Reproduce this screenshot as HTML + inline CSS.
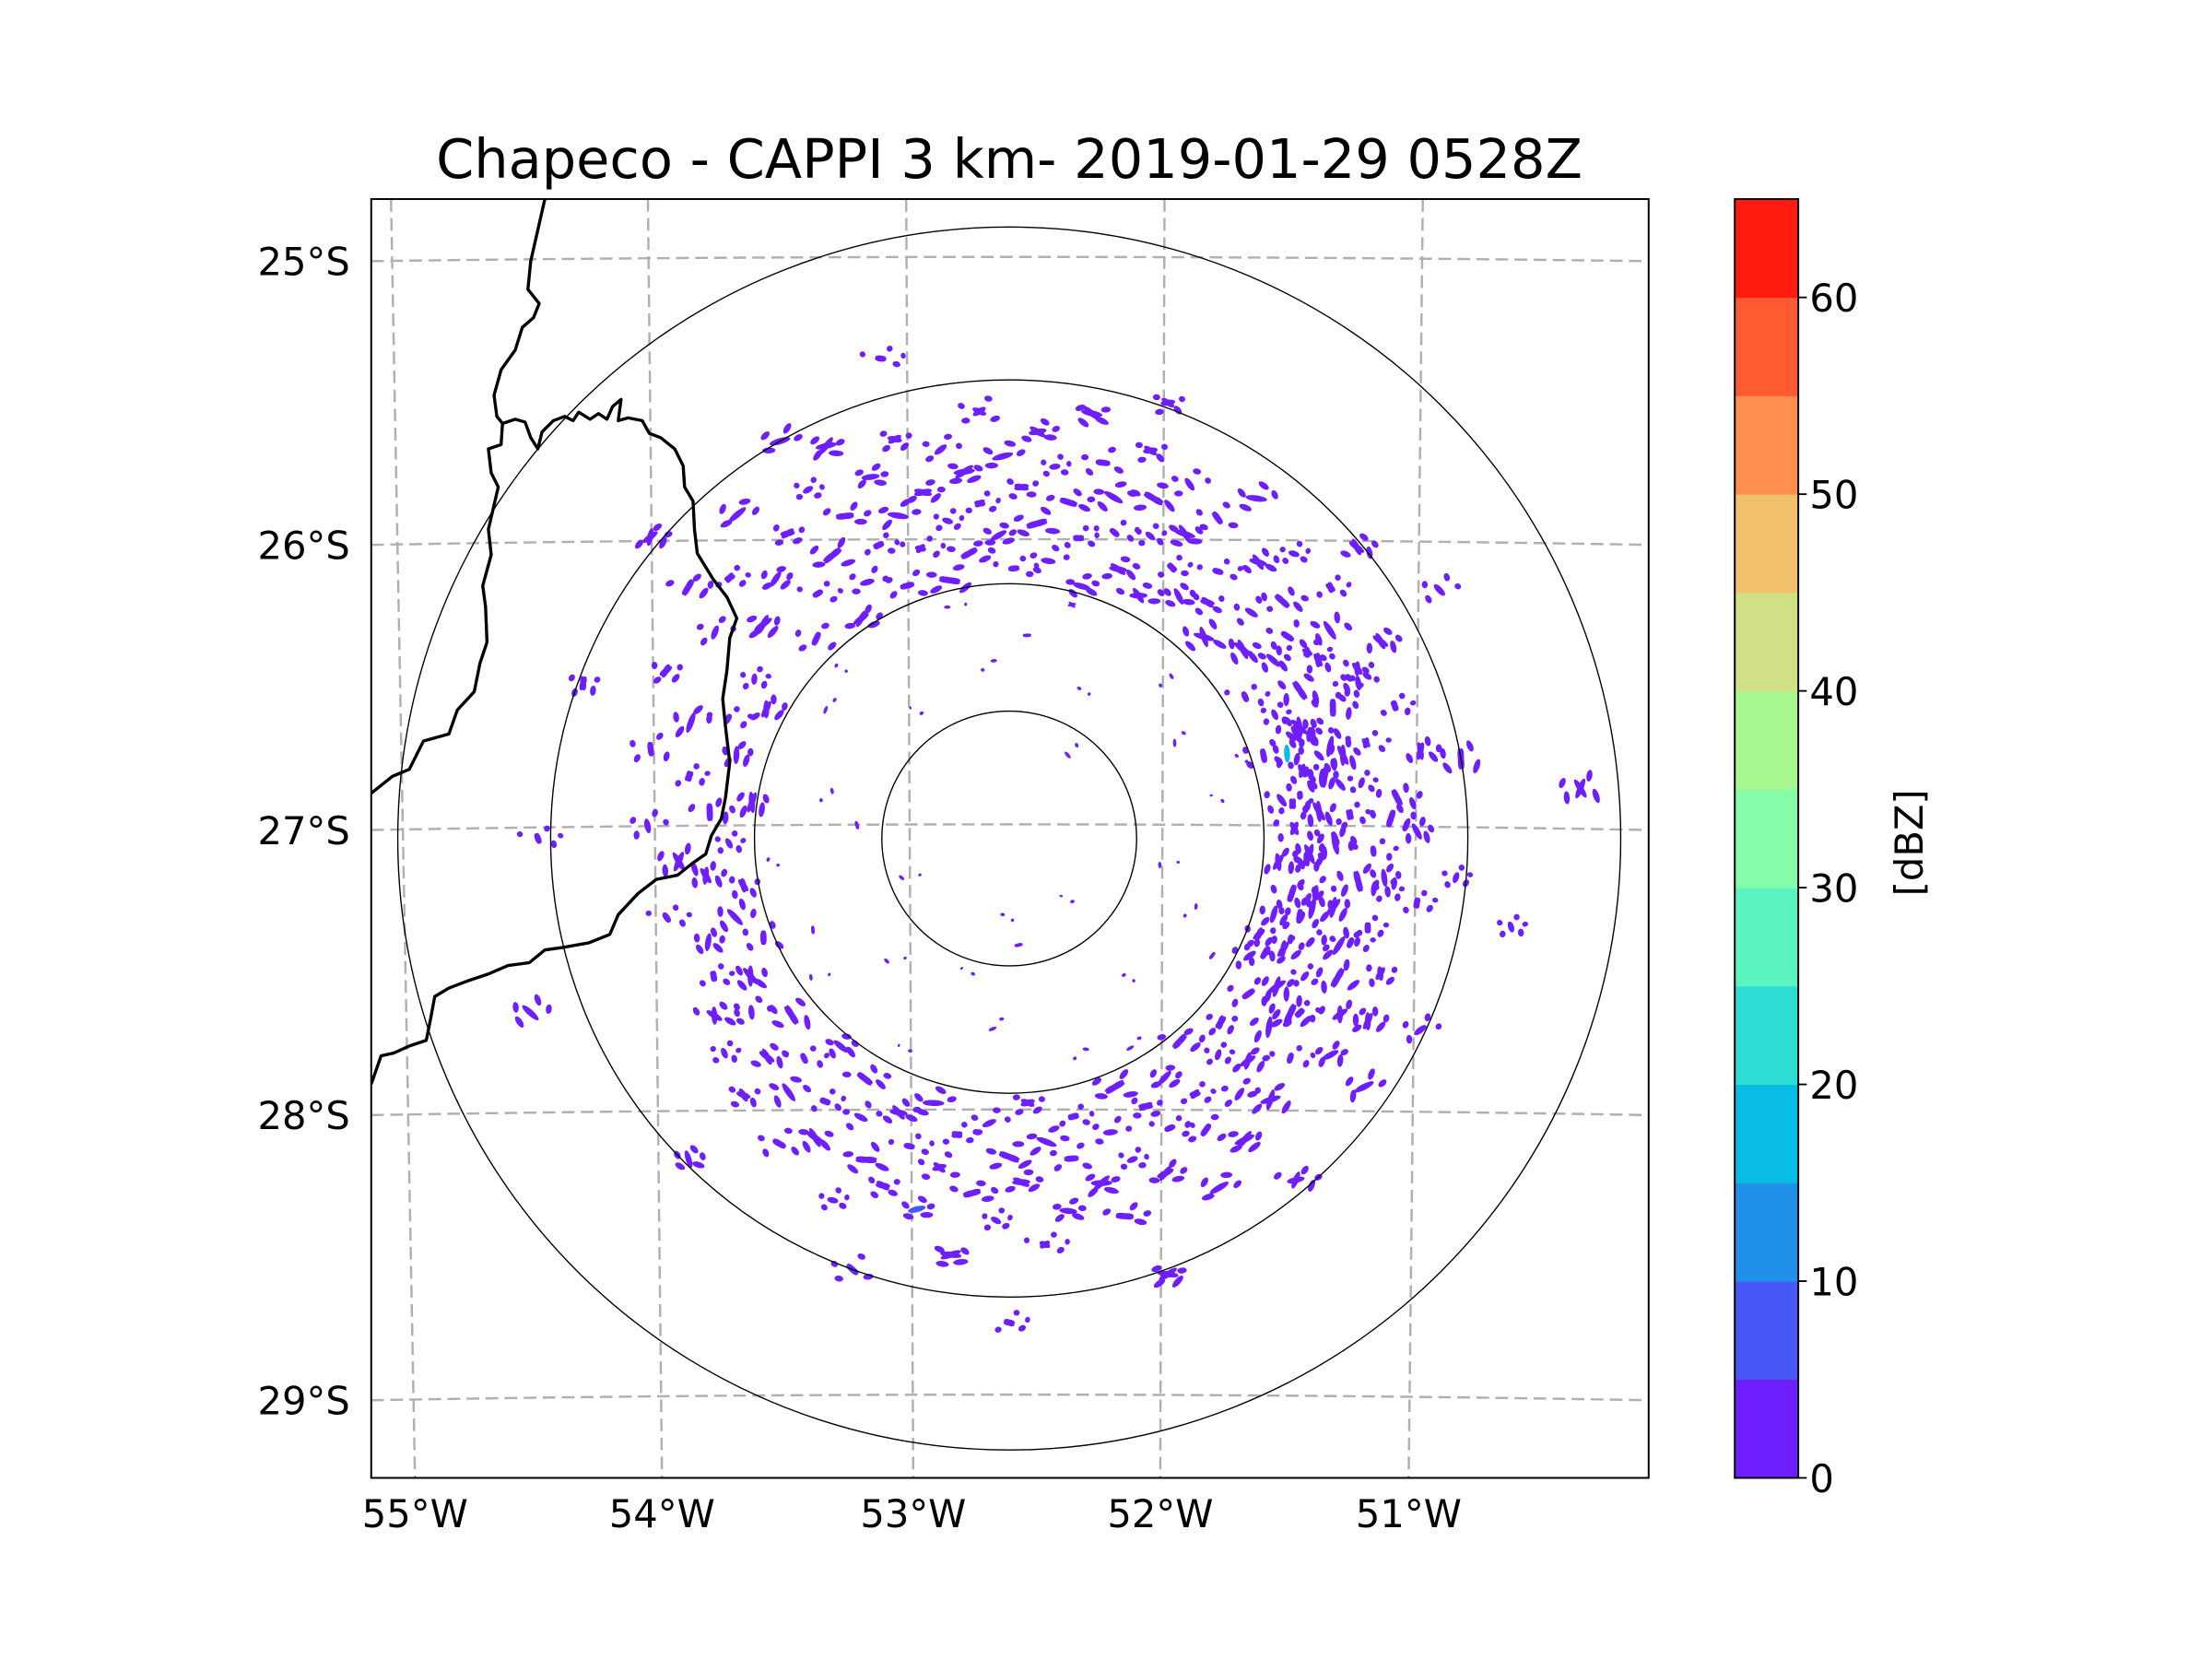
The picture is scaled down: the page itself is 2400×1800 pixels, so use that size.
<!DOCTYPE html>
<html><head><meta charset="utf-8"><style>
html,body{margin:0;padding:0;background:#fff;}
svg{display:block;font-family:"DejaVu Sans","Liberation Sans",sans-serif;}
</style></head><body>
<svg id="fig" width="2400" height="1800" viewBox="0 0 1567.1 1175.3" xmlns="http://www.w3.org/2000/svg">
<rect width="1567.1" height="1175.3" fill="#fff"/>
<text x="715" y="126" font-size="38.5" text-anchor="middle" fill="#000">Chapeco - CAPPI 3 km- 2019-01-29 0528Z</text>
<defs><clipPath id="axclip"><rect x="263" y="141" width="905" height="906"/></clipPath></defs>
<g id="plot" clip-path="url(#axclip)">
<g id="grid" stroke="#b0b0b0" stroke-width="1.6" stroke-dasharray="9 4.5" fill="none"></g>
<g id="echoes"></g>
<g id="rings" fill="none" stroke="#000" stroke-width="0.9"></g>
<g id="coast" fill="none" stroke="#000" stroke-width="2.2" stroke-linejoin="round">
<path d="M386,141 L376,185 L374,205 L382,215 L378,225 L370,232 L365,248 L355,262 L350,280 L352,295 L356,300 L355,315 L346,318 L348,335 L353,345 L346,375 L348,393 L342,415 L344,430 L345,455 L340,470 L336,490 L324,503 L318,520 L300,525 L290,545 L278,550 L263,562"/>
<path d="M356,300 L365,297 L372,299 L376,310 L381,318 L384,306 L392,298 L400,295 L406,298 L410,292 L418,297 L424,293 L430,297 L434,288 L440,283 L438,298 L445,296 L455,298 L460,307 L468,310 L478,318 L484,330 L485,345 L491,355 L492,375 L494,392 L505,410 L515,423 L522,438 L517,452 L515,475 L512,495 L514,515 L517,540 L514,565 L511,580 L504,592 L500,605 L490,612 L480,620 L465,623 L452,633 L438,648 L432,662 L417,668 L400,671 L386,673 L375,682 L360,684 L346,690 L331,695 L318,700 L308,706 L305,722 L302,737 L290,741 L279,746 L270,748 L263,768"/>
</g>
</g>
<rect x="263" y="141" width="905" height="906" fill="none" stroke="#000" stroke-width="1.3"/>
<g id="ticks" font-size="27.2" fill="#000"></g>
<g id="cbar"></g>
<text x="0" y="0" font-size="27.2" text-anchor="middle" transform="translate(1362,597) rotate(-90)">[dBZ]</text>
</svg>
<script>
// ---- data ----
const lonLabels = ["55°W","54°W","53°W","52°W","51°W"];
const latLabels = ["25°S","26°S","27°S","28°S","29°S"];
const ringRangesKm = [50,100,180,240];
const cbarLevels = [0,5,10,15,20,25,30,35,40,45,50,55,60,65];
const cbarColors = ["#6f1eff","#4858f6","#2090e8","#08bde3","#2ddcd3","#5bf4c0","#84fca8","#a9f790","#d0e085","#f2bf6a","#ff8f4d","#ff5a31","#ff1c10"];
const cbarTicks = [0,10,20,30,40,50,60];
// echoes: azimuth deg, range km, dBZ
const echoAz = [302,305,308,311,313,316,318,320,322,324,326,328,330,331,333,335,336,338,339,341,343,344,346,347,349,350,352,353,355,356,358,359,1,2,4,5,7,8,10,11,13,14,16,17,19,20,22,23,25,27,28,30,31,33,35,36,38,40,42,44,45,
47,49,51,52,54,56,57,59,60,62,63,65,66,68,69,71,72,73,74,75,77,78,79,81,82,84,85,86,88,89,91,92,94,95,97,98,100,101,102,104,105,106,108,109,110,112,113,115,116,118,119,121,123,124,126,128,
131,133,135,136,138,140,142,144,146,147,149,151,153,155,157,159,161,163,165,167,169,
171,173,175,176,178,180,182,184,186,188,190,192,194,196,198,200,202,204,206,208,
211,213,215,217,219,221,223,226,228,231,233,236,239,242,245,248,
251,254,257,260,263,266,269,272,275,278,281,284,287,290,293,296,298,
5,25,45,60,80,100,120,140,160,185,205,225,245,265,285,305,325,345,15,70,110,150,195,235,275,315,355,35,135,250,175,185,
330,345,20,50,80,95,115,140,160,180,200,225,250,270,290,310,85,100,60,
70,76,83,90,96,103,107,111,117,122,66,71,87,93,99,114,79,125,58,64];
const echoKm = [118,141,160,128,150,109,137,166,122,148,104,131,158,115,142,170,126,107,152,134,119,163,140,104,127,155,113,145,132,168,119,150,106,138,160,124,147,110,134,170,121,152,103,140,127,162,114,145,131,156,108,138,124,150,116,165,133,121,146,110,158,
130,142,118,160,135,125,150,108,140,165,128,115,150,137,122,160,105,114,131,145,118,165,126,140,108,153,122,134,112,160,128,143,117,106,138,150,122,113,130,145,118,108,136,125,155,116,140,128,105,147,120,133,112,152,126,140,
110,128,145,118,135,104,150,124,138,112,160,130,118,145,106,135,122,155,140,112,128,
148,120,160,104,135,125,150,112,140,165,118,132,150,108,127,145,116,138,158,124,
110,140,126,150,105,132,118,145,128,110,140,122,135,115,128,104,
125,112,138,106,120,130,110,142,118,102,128,145,112,133,120,150,108,
80,65,90,75,85,60,92,70,88,75,92,68,85,95,72,88,60,94,95,95,78,95,55,95,60,96,70,40,35,45,42,30,
180,195,182,178,180,176,178,175,182,190,180,178,200,185,178,184,225,200,195,
120,135,112,128,148,122,140,105,158,130,145,126,150,118,162,110,125,170,138,152];
const echoDbz = echoAz.map(()=>2);
echoDbz[78]=17; echoDbz[80]=8; echoDbz[92]=7; echoDbz[40]=7; echoDbz[150]=8; echoDbz[233]=12;

// ---- scales ----
const CX=715, CY=594, PXKM=1.805;
const AX={x0:263,y0:141,x1:1168,y1:1047};
const lonTop=[277,459,642,825,1008], lonBot=[294,469,647,822,998];
const latEdge=[185,386,588,790,992], latMid=[182,382,584,786,988];
const NS="http://www.w3.org/2000/svg";
function mk(t,a,p){const e=document.createElementNS(NS,t);for(const k in a)e.setAttribute(k,a[k]);p.appendChild(e);return e;}
function colorFor(v){for(let i=0;i<cbarColors.length;i++){if(v<cbarLevels[i+1])return cbarColors[i];}return cbarColors[cbarColors.length-1];}
function polar(az,km){const r=km*PXKM,a=az*Math.PI/180;return [CX+r*Math.sin(a),CY-r*Math.cos(a)];}

// grid
const grid=document.getElementById('grid');
lonTop.forEach((x,i)=>{const p=mk('path',{d:`M${x},${AX.y0} L${lonBot[i]},${AX.y1}`},grid);
});
latEdge.forEach((y,i)=>{const m=latMid[i];const c=2*m-y;const p=mk('path',{d:`M${AX.x0},${y} Q715,${c} ${AX.x1},${y}`},grid);
});

// echoes (each echo rendered as a small speckle cluster)
const speck=[[0,0,1],[7,4,0.7],[-6,5,0.6],[4,-7,0.55],[-8,-3,0.5],[10,-2,0.45]];
const eg=document.getElementById('echoes');
for(let i=0;i<echoAz.length;i++){
  const [x,y]=polar(echoAz[i],echoKm[i]);
  const big=echoKm[i]>100;
  const n=big?6:2;
  const g=mk('g',{},eg);
  
  
  for(let k=0;k<n;k++){
    const s=speck[(k+i)%speck.length];
    const sx=x+(k?s[0]*(1+(i%3)*0.3):0), sy=y+(k?s[1]*(1+(i%2)*0.3):0);
    const rx=(big?(4+(i%4)*1.2):(1.6+(i%3)*0.7))*(k?s[2]:1), ry=big?2.1:1.2;
    mk('ellipse',{cx:sx.toFixed(1),cy:sy.toFixed(1),rx:rx.toFixed(1),ry:ry,fill:colorFor(k?2:echoDbz[i]),transform:`rotate(${(echoAz[i]+((i+k)%5-2)*14).toFixed(0)} ${sx.toFixed(1)} ${sy.toFixed(1)})`},g);
  }
}

// rings
const rg=document.getElementById('rings');
ringRangesKm.forEach(km=>{const c=mk('circle',{cx:CX,cy:CY,r:km*PXKM},rg);
});

// axis labels
const tg=document.getElementById('ticks');
lonLabels.forEach((s,i)=>{const t=mk('text',{x:lonBot[i],y:1082,'text-anchor':'middle'},tg);t.textContent=s;
});
latLabels.forEach((s,i)=>{const t=mk('text',{x:248,y:latEdge[i]+10,'text-anchor':'end'},tg);t.textContent=s;
});

// colorbar
const cb=document.getElementById('cbar');
const CB={x:1229,w:45,top:141,bot:1047};
const vmin=cbarLevels[0],vmax=cbarLevels[cbarLevels.length-1];
function cy(v){return CB.bot-(v-vmin)/(vmax-vmin)*(CB.bot-CB.top);}
cbarColors.forEach((c,i)=>{const y1=cy(cbarLevels[i+1]),y0=cy(cbarLevels[i]);
const r=mk('rect',{x:CB.x,y:y1,width:CB.w,height:y0-y1+0.3,fill:c},cb);
});
const fr=mk('rect',{x:CB.x,y:CB.top,width:CB.w,height:CB.bot-CB.top,fill:'none',stroke:'#000','stroke-width':1.3},cb);

cbarTicks.forEach(v=>{const y=cy(v);
const l=mk('line',{x1:CB.x+CB.w,x2:CB.x+CB.w+6,y1:y,y2:y,stroke:'#000','stroke-width':1.2},cb);

const t=mk('text',{x:1282,y:y+10,'font-size':27.2},cb);t.textContent=v;
});
</script>
</body></html>
